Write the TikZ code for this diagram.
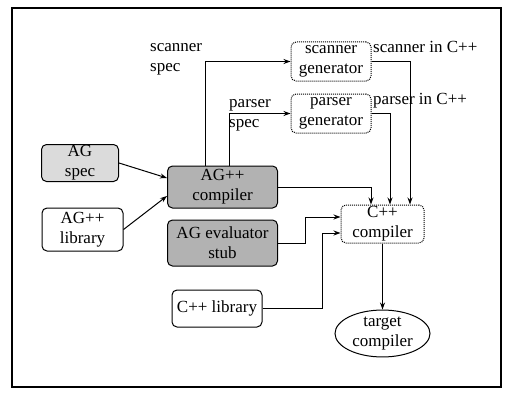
\documentclass[tikz,border=0pt]{standalone}
\usepackage{fontspec}
\setmainfont{Liberation Serif}
\usepackage{tikz}
\usetikzlibrary{arrows.meta,shapes.geometric,calc}

\begin{document}
\begin{tikzpicture}[
  x=1pt,y=-1pt,
  font=\fontsize{17}{20}\selectfont,
  box/.style={draw,line width=1pt,rounded corners=5pt,align=center,inner sep=1pt},
  spec/.style={box,fill=gray!28},
  dark/.style={box,fill=gray!60},
  gen/.style={box,densely dotted,line width=1pt},
  lbl/.style={anchor=west,align=left,inner sep=0pt},
  arr/.style={-{Stealth[length=7pt,width=5pt]},line width=1pt}]

  \useasboundingbox (0,0) rectangle (508,396);
  \draw[line width=1.3pt] (12,8) rectangle (501,387);

  % inputs on the left
  \node[spec,minimum width=77pt,minimum height=37pt] (agspec) at (80,163) {AG\\spec};
  \node[box,minimum width=81pt,minimum height=43pt] (aglib) at (82.5,229.5) {AG++\\library};

  \node[dark,minimum width=110pt,minimum height=42pt] (agcomp) at (222.5,187) {AG++\\compiler};
  \node[dark,minimum width=110pt,minimum height=46pt] (agstub) at (222.5,243) {AG evaluator\\stub};
  \node[box,minimum width=90pt,minimum height=37pt] (cpplib) at (217,308.5) {C++ library};

  % generators
  \node[gen,minimum width=80pt,minimum height=39pt] (scangen) at (331,61.5) {scanner\\generator};
  \node[gen,minimum width=80pt,minimum height=39pt] (pargen) at (331,113.5) {parser\\generator};

  \node[gen,minimum width=83pt,minimum height=38pt] (cppcomp) at (382.5,224) {C++\\compiler};
  \node[draw,line width=1pt,ellipse,minimum width=95pt,minimum height=43pt,
        inner sep=0pt,align=center] (target) at (382.5,333.5) {target\\compiler};

  \node[lbl] (lscan) at (150,59) {scanner\\spec};
  \node[lbl] (lpar) at (229,115) {parser\\spec};
  \node[lbl] (lscanout) at (373,47) {scanner in C++};
  \node[lbl] (lparout) at (373,101) {parser in C++};

  \draw[arr] (agspec.east) -- ([yshift=9pt]agcomp.west);
  \draw[arr] (aglib.east) -- ([yshift=-9pt]agcomp.west);

  \draw[arr] ([xshift=-17.5pt]agcomp.north) |- (scangen.west);
  \draw[arr] ([xshift=6.5pt]agcomp.north) |- (pargen.west);

  \draw[arr] (scangen.east) -| ([xshift=27.5pt]cppcomp.north);
  \draw[arr] (pargen.east) -| ([xshift=7.5pt]cppcomp.north);
  \draw[arr] (agcomp.east) -| ([xshift=-11.5pt]cppcomp.north);

  \draw[arr] (agstub.east) -- ++(27,0) |- ([yshift=7pt]cppcomp.west);
  \draw[arr] (cpplib.east) -- ++(60,0) |- ([yshift=-9pt]cppcomp.west);

  \draw[arr] (cppcomp.south) -- (target.north);
\end{tikzpicture}
\end{document}
